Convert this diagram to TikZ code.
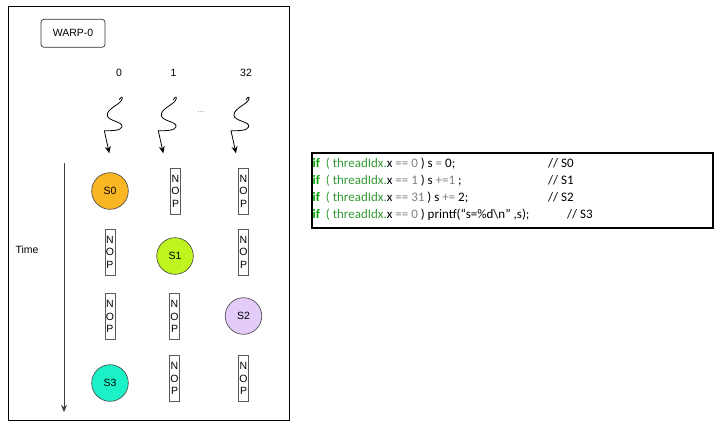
\documentclass[tikz,border=0pt]{standalone}
\usepackage{fontspec}
\setmainfont{Liberation Sans}
\newfontfamily\codefont{Carlito}
\usetikzlibrary{arrows.meta}
\definecolor{cS0}{HTML}{FAB623}
\definecolor{cS1}{HTML}{BEF51E}
\definecolor{cS2}{HTML}{E3CCFA}
\definecolor{cS3}{HTML}{1CF2C8}
\definecolor{ifgreen}{HTML}{00A000}
\definecolor{tgreen}{HTML}{359A35}
\definecolor{opgray}{HTML}{808080}
\tikzset{
  lbl/.style={font=\fontsize{10.5}{12}\selectfont, inner sep=0pt},
  stmt/.style={circle, draw=black!75, line width=0.6pt, minimum size=36.6pt, inner sep=0pt, font=\fontsize{10.5}{12}\selectfont},
  nop/.style={draw=black!65, fill=white, line width=0.6pt, minimum width=10pt, minimum height=46pt, inner sep=0pt, align=center, font=\fontsize{10.5}{12.6}\selectfont},
  squig/.style={line width=0.8pt, -{Stealth[length=7pt,width=6pt]}},
  codeline/.style={anchor=base west, inner sep=0pt, font=\codefont\fontsize{13}{15}\selectfont},
}
\newcommand{\nopt}{N\\O\\P}
\begin{document}
\begin{tikzpicture}[x=1pt,y=-1pt]
\useasboundingbox (0,0) rectangle (720,429);
% outer frame
\node[draw=black, line width=0.8pt, minimum width=281pt, minimum height=414pt, inner sep=0pt] (frame) at (148.5,213) {};
% warp label
\node[draw=black!80, rounded corners=3pt, line width=0.7pt, minimum width=64pt, minimum height=28pt, inner sep=0pt, font=\fontsize{10.5}{12}\selectfont] (warp) at (73,33.3) {WARP-0};
% thread labels
\node[lbl] (t0) at (119,73) {0};
\node[lbl] (t1) at (173.5,73) {1};
\node[lbl] (t32) at (246,73) {32};
\node[lbl, text=black!55, font=\fontsize{8}{10}\selectfont] (dots) at (201,112) {...};
% squiggly arrows
\foreach \dx/\nm in {0/a,54/b,126.7/c}{
  \begin{scope}[shift={(121.7+\dx,97.3)}]
    \coordinate (sq\nm s) at (-2.5,2.5);
    \coordinate (sq\nm e) at (-12.4,56);
    \draw[squig] (sq\nm s) .. controls (-1,0) and (1,-1.5) .. (0.5,1.5)
      .. controls (-0.5,7) and (-15,11) .. (-14.4,18)
      .. controls (-14,24) and (1.5,24) .. (0.3,29.5)
      .. controls (-0.8,33.5) and (-10,33.5) .. (-17.4,33.4)
      -- (sq\nm e);
  \end{scope}
}
% time axis
\coordinate (ttop) at (64,163);
\coordinate (tbot) at (64,412);
\draw[black!75, line width=0.8pt, -{Stealth[length=7pt,width=6pt]}] (ttop) -- (tbot);
\node[lbl] (time) at (27,250) {Time};
% statements
\node[stmt, fill=cS0] (S0) at (110,191) {S0};
\node[stmt, fill=cS1] (S1) at (175,256) {S1};
\node[stmt, fill=cS2] (S2) at (243.5,316) {S2};
\node[stmt, fill=cS3] (S3) at (110,383) {S3};
% NOPs
\node[nop] (n11) at (175.5,191) {\nopt};
\node[nop] (n12) at (243.5,191) {\nopt};
\node[nop] (n20) at (110,252) {\nopt};
\node[nop] (n22) at (243.5,252) {\nopt};
\node[nop] (n30) at (110,316.5) {\nopt};
\node[nop] (n31) at (174.5,316.5) {\nopt};
\node[nop] (n41) at (174.5,378.5) {\nopt};
\node[nop] (n42) at (243.5,378.5) {\nopt};
% code box
\node[draw=black, line width=1.2pt, minimum width=401pt, minimum height=75pt, inner sep=0pt] (code) at (512.5,190.5) {};
\node[codeline] (c1) at (312.5,167) {\textcolor{ifgreen}{\bfseries if}\ \ \textcolor{tgreen}{( threadIdx.}x \textcolor{opgray}{== 0} ) s \textcolor{opgray}{=} 0;};
\node[codeline] (c2) at (312.5,184.3) {\textcolor{ifgreen}{\bfseries if}\ \ \textcolor{tgreen}{( threadIdx.}x \textcolor{opgray}{== 1} ) s \textcolor{opgray}{+=1} ;};
\node[codeline] (c3) at (312.5,201.5) {\textcolor{ifgreen}{\bfseries if}\ \ \textcolor{tgreen}{( threadIdx.}x \textcolor{opgray}{== 31} ) s \textcolor{opgray}{+=} 2;};
\node[codeline] (c4) at (312.5,218.8) {\textcolor{ifgreen}{\bfseries if}\ \ \textcolor{tgreen}{( threadIdx.}x \textcolor{opgray}{== 0} ) printf(“s=\%d\textbackslash n” ,s);};
\node[codeline] (k1) at (548,167) {// S0};
\node[codeline] (k2) at (548,184.3) {// S1};
\node[codeline] (k3) at (548,201.5) {// S2};
\node[codeline] (k4) at (567,218.8) {// S3};
\end{tikzpicture}
\end{document}
